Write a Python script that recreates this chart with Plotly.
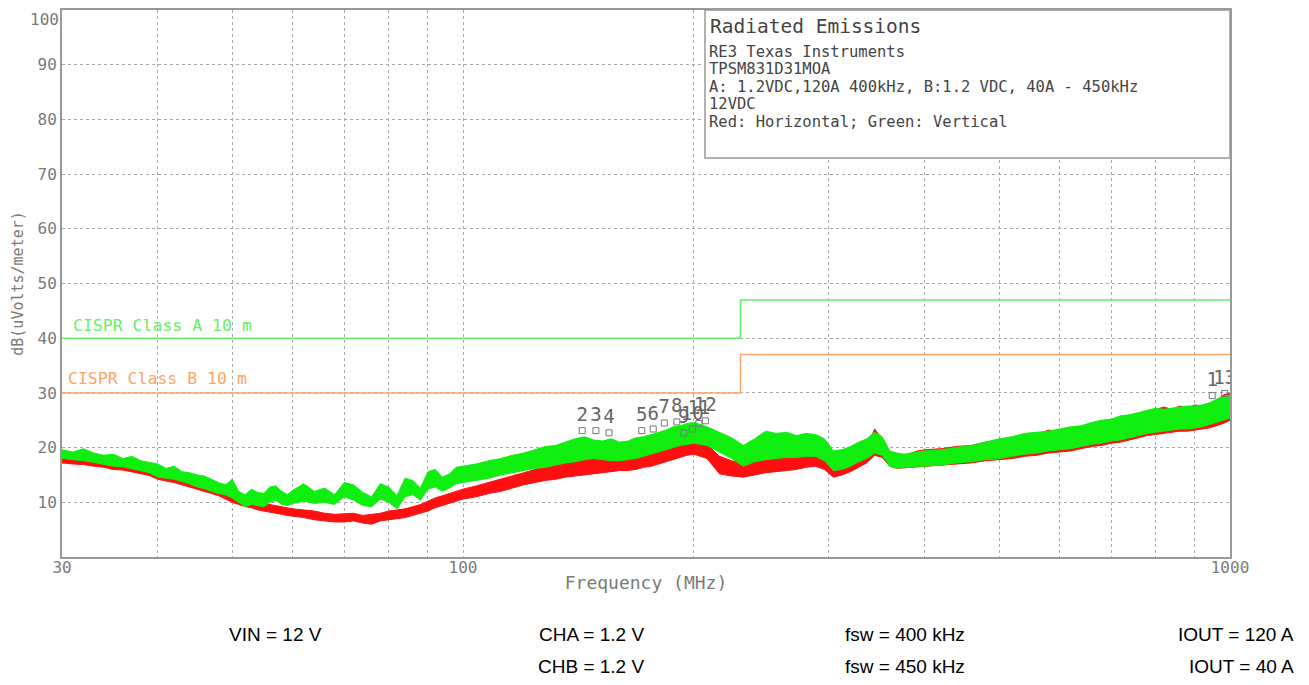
import plotly.graph_objects as go

# Frequency grid (MHz) for the measured scans
FREQ = [30, 31, 32, 33, 34, 35, 36, 37, 38, 39, 40, 41, 42, 43, 44, 45, 46, 47, 48, 49,
        50, 51, 52, 53, 54, 55, 56, 57, 58, 59, 60,
        62, 64, 66, 68, 70, 72, 74, 76, 78, 80, 82, 84, 86, 88, 90, 92, 94, 96, 98, 100,
        104, 108, 112, 116, 120, 124, 128, 132, 136, 140, 144, 148, 152, 156, 160, 164,
        168, 172, 176, 180, 184, 188, 192, 196, 200,
        208, 216, 224, 232, 240, 248, 256, 264, 272, 280, 288, 296, 304, 312, 320, 328,
        336, 344, 352, 360, 368, 376, 384, 392, 400,
        420, 440, 460, 480, 500, 520, 540, 560, 580, 600, 620, 640, 660, 680, 700, 720,
        740, 760, 780, 800, 820, 840, 860, 880, 900, 920, 940, 960, 980, 1000]

# Vertical polarisation (green) - low / high edge of the noisy trace, dB(uV/m)
VERT_LO = [18.0, 17.8, 17.6, 17.3, 17.0, 16.6, 16.5, 16.2, 15.8, 15.4, 14.6, 14.4, 14.2, 13.8,
           13.4, 12.8, 12.5, 12.0, 11.6, 11.4, 10.8, 10.0, 9.2, 9.6, 9.4, 9.2, 10.0, 10.4, 9.6,
           9.4, 9.8,
           10.2, 9.8, 10.0, 9.6, 11.0, 10.4, 9.4, 9.2, 10.6, 10.0, 8.8, 11.0, 11.4, 10.4, 12.4,
           12.8, 12.0, 12.6, 13.4, 13.6,
           14.0, 14.4, 15.0, 15.4, 15.8, 16.2, 16.4, 16.8, 17.2, 17.4, 17.8, 18.0, 17.8, 17.6,
           17.6, 17.8, 18.0, 18.4, 18.8, 19.2, 19.6, 20.0, 20.4, 20.6, 20.8,
           20.4, 19.2, 18.0, 16.6, 17.4, 17.8, 18.0, 18.2, 18.2, 18.4, 18.4, 17.6, 15.8, 16.0,
           16.6, 17.4, 18.0, 19.0, 18.6, 16.6, 16.2, 16.4, 16.4, 16.6, 16.6,
           16.8, 17.2, 17.4, 17.8, 18.0, 18.4, 18.8, 19.0, 19.4, 19.6, 19.8, 20.2, 20.6, 20.8,
           21.2, 21.4, 21.8, 22.2, 22.6, 22.8, 23.0, 23.2, 23.4, 23.4, 23.6, 23.8, 24.2, 24.6,
           25.0, 25.4]
VERT_HI = [19.6, 19.2, 19.8, 19.0, 18.6, 18.8, 18.0, 18.4, 17.6, 17.3, 17.0, 16.2, 16.6, 15.6,
           15.4, 15.0, 14.8, 14.2, 13.6, 13.2, 14.2, 12.0, 11.4, 12.4, 11.8, 11.6, 12.8, 13.0,
           12.0, 11.4, 12.2,
           13.4, 12.0, 12.6, 11.4, 13.6, 13.2, 11.8, 11.0, 13.4, 12.8, 11.2, 14.4, 14.0, 12.6,
           15.6, 16.0, 14.6, 15.2, 16.4, 16.6,
           17.0, 17.6, 18.0, 18.6, 19.0, 19.6, 20.2, 20.4, 21.0, 21.6, 22.0, 21.4, 21.2, 21.6,
           21.0, 21.2, 21.8, 22.0, 22.4, 22.8, 23.2, 23.8, 24.0, 24.4, 24.6,
           23.8, 22.8, 21.8, 20.4, 21.6, 23.0, 22.6, 22.8, 22.2, 22.6, 22.4, 21.6, 19.4, 19.6,
           20.2, 21.0, 21.6, 22.8, 22.0, 19.4, 19.0, 18.8, 19.0, 19.2, 19.4,
           19.6, 20.0, 20.4, 21.0, 21.6, 22.0, 22.6, 22.8, 23.0, 23.4, 23.8, 24.0, 24.6, 25.0,
           25.2, 25.8, 26.0, 26.4, 26.8, 27.2, 27.0, 27.2, 27.4, 27.6, 27.6, 27.8, 28.2, 28.8,
           29.4, 29.6]

# Horizontal polarisation (red)
HORZ_LO = [17.2, 17.0, 16.9, 16.6, 16.4, 16.0, 15.9, 15.6, 15.2, 14.9, 14.2, 13.9, 13.6, 13.2,
           12.9, 12.4, 12.0, 11.6, 11.2, 10.6, 10.0, 9.6, 9.2, 9.0, 8.6, 8.4, 8.2, 8.0, 7.8,
           7.6, 7.4,
           7.2, 6.8, 6.6, 6.4, 6.4, 6.6, 6.2, 6.0, 6.6, 6.8, 7.0, 7.2, 7.6, 8.0, 8.4, 9.0, 9.4,
           9.8, 10.2, 10.6,
           11.0, 11.6, 12.0, 12.6, 13.2, 13.6, 14.0, 14.2, 14.6, 14.8, 15.0, 15.2, 15.4, 15.6,
           15.8, 15.8, 16.0, 16.4, 16.6, 17.0, 17.4, 17.8, 18.2, 18.6, 18.8,
           18.0, 15.2, 14.8, 14.6, 15.0, 15.4, 15.6, 15.8, 16.0, 16.4, 16.6, 16.0, 14.6, 15.0,
           15.6, 16.4, 17.2, 18.6, 18.2, 16.6, 16.2, 16.2, 16.4, 16.4, 16.6,
           16.8, 17.0, 17.2, 17.6, 17.8, 18.0, 18.4, 18.6, 19.0, 19.2, 19.4, 19.8, 20.2, 20.4,
           20.8, 21.0, 21.4, 21.8, 22.2, 22.4, 22.6, 22.8, 23.0, 23.0, 23.2, 23.4, 23.6, 24.0,
           24.4, 25.0]
HORZ_HI = [18.8, 18.3, 18.9, 17.9, 17.8, 17.4, 17.2, 17.0, 16.6, 16.2, 15.8, 15.6, 15.2, 14.7,
           14.5, 14.0, 13.6, 13.2, 13.0, 12.2, 11.8, 11.2, 10.8, 10.4, 10.0, 9.8, 9.6, 9.4, 9.2,
           9.0, 8.8,
           8.6, 8.4, 8.0, 7.8, 7.9, 8.0, 7.6, 7.8, 8.0, 8.4, 8.6, 8.8, 9.2, 9.6, 10.2, 10.8,
           11.2, 11.6, 12.0, 12.4,
           13.0, 13.6, 14.2, 14.8, 15.4, 16.0, 16.4, 16.8, 17.2, 17.4, 17.8, 18.0, 18.2, 18.4,
           18.6, 18.8, 19.0, 19.4, 19.6, 20.0, 20.4, 20.8, 21.2, 21.6, 21.8,
           20.6, 18.4, 17.6, 17.2, 17.4, 17.8, 18.2, 18.4, 18.6, 18.8, 19.2, 19.0, 17.0, 17.4,
           18.0, 18.8, 19.8, 23.4, 21.6, 19.2, 18.8, 18.6, 19.0, 19.4, 19.6,
           19.8, 20.2, 20.4, 21.0, 21.4, 21.8, 22.0, 22.4, 23.2, 23.0, 23.6, 23.8, 24.2, 24.8,
           25.0, 25.6, 25.8, 26.0, 26.6, 27.0, 27.4, 27.0, 27.6, 27.2, 27.8, 27.6, 28.0, 28.6,
           29.6, 30.0]

# CISPR 22 limits, 10 m
LIMIT_FREQ = [30, 230, 1000]
CLASS_A = [40, 47, 47]
CLASS_B = [30, 37, 37]

# Peak markers
MARK_ID = ["1", "2", "3", "4", "5", "6", "7", "8", "9", "10", "11", "12", "13"]
MARK_FREQ = [948, 143, 149, 155, 171, 177, 183, 190, 194, 199, 203, 207, 984]
MARK_LEVEL = [29.5, 23.1, 23.1, 22.7, 23.1, 23.4, 24.5, 24.7, 22.7, 23.4, 24.4, 24.9, 29.9]

X_TICKS = [30, 40, 50, 60, 70, 80, 90, 100, 200, 300, 400, 500, 600, 700, 800, 900, 1000]
X_TICK_TEXT = ["30", "", "", "", "", "", "", "100", "", "", "", "", "", "", "", "", "1000"]
Y_TICKS = [10, 20, 30, 40, 50, 60, 70, 80, 90, 100]
# the top label sits at the page edge, so it is drawn separately
Y_TICK_TEXT = ["10", "20", "30", "40", "50", "60", "70", "80", "90", ""]
Y_TOP_LABEL = "100"

INFO_ROW1 = ["VIN = 12 V", "CHA = 1.2 V", "fsw = 400 kHz", "IOUT = 120 A"]
INFO_ROW2 = ["", "CHB = 1.2 V", "fsw = 450 kHz", "IOUT = 40 A"]

LEGEND_TITLE = "Radiated Emissions"
LEGEND_LINES = ["RE3 Texas Instruments", "TPSM831D31MOA",
                "A: 1.2VDC,120A 400kHz, B:1.2 VDC, 40A - 450kHz", "12VDC",
                "Red: Horizontal; Green: Vertical"]

MONO = "DejaVu Sans Mono"
GREY = "#7a7a7a"
RED = "#ff1010"
GREEN = "#10ee10"
LIM_A = "#66ee66"
LIM_B = "#ffa366"

# page body adds an 8px margin; plot area in screen pixels: x 62..1230, y 10..557
OFF = 8
PX_L, PX_R, PX_T, PX_B = 62 - OFF, 1230 - OFF, 10 - OFF, 557 - OFF


def px_x(x):
    return (x - OFF - PX_L) / (PX_R - PX_L)


def px_y(y):
    return (PX_B - (y - OFF)) / (PX_B - PX_T)


fig = go.Figure()


def band(lo, hi, color):
    return go.Scatter(
        x=FREQ + FREQ[::-1], y=hi + lo[::-1],
        mode="lines", fill="toself", fillcolor=color,
        line=dict(color=color, width=1), hoverinfo="skip", showlegend=False
    )


fig.add_trace(band(HORZ_LO, HORZ_HI, RED))
fig.add_trace(band(VERT_LO, VERT_HI, GREEN))

fig.add_trace(go.Scatter(x=LIMIT_FREQ, y=CLASS_A, mode="lines", line_shape="hv",
                         line=dict(color=LIM_A, width=1.5), showlegend=False))
fig.add_trace(go.Scatter(x=LIMIT_FREQ, y=CLASS_B, mode="lines", line_shape="hv",
                         line=dict(color=LIM_B, width=1.5), showlegend=False))

fig.add_trace(go.Scatter(
    x=MARK_FREQ, y=MARK_LEVEL, mode="markers+text", text=MARK_ID,
    textposition="top center", textfont=dict(family=MONO, size=19, color="#666666"),
    marker=dict(symbol="square-open", size=6, color="#777777", line=dict(width=1)),
    showlegend=False
))

# Limit labels
fig.add_annotation(x=px_x(71), y=42.3, xref="paper", yref="y", text="CISPR Class A 10 m",
                   showarrow=False, xanchor="left", yanchor="middle",
                   font=dict(family=MONO, size=16.5, color=LIM_A))
fig.add_annotation(x=px_x(66), y=32.7, xref="paper", yref="y", text="CISPR Class B 10 m",
                   showarrow=False, xanchor="left", yanchor="middle",
                   font=dict(family=MONO, size=16.5, color=LIM_B))

# Top y label
fig.add_annotation(x=px_x(61), y=px_y(8), xref="paper", yref="paper", text=Y_TOP_LABEL,
                   showarrow=False, xanchor="right", yanchor="top",
                   font=dict(family=MONO, size=16, color=GREY))

# Header box
fig.add_shape(type="rect", xref="paper", yref="paper", x0=px_x(705), x1=1.0,
              y0=px_y(158), y1=1.0,
              line=dict(color="#999999", width=1.5), fillcolor="white", layer="above")
fig.add_annotation(x=px_x(708), y=px_y(26), xref="paper", yref="paper", text=LEGEND_TITLE,
                   showarrow=False, xanchor="left", yanchor="middle",
                   font=dict(family=MONO, size=19.5, color="#444444"))
for i, line in enumerate(LEGEND_LINES):
    fig.add_annotation(x=px_x(707), y=px_y(52 + i * 17.5), xref="paper", yref="paper",
                       text=line, showarrow=False, xanchor="left", yanchor="middle",
                       font=dict(family=MONO, size=15.5, color="#444444"))

# Operating conditions below the plot
col_x = [px_x(275), px_x(591), px_x(905), px_x(1296)]
col_anchor = ["center", "center", "center", "right"]
for row, y in ((INFO_ROW1, px_y(634)), (INFO_ROW2, px_y(666))):
    for txt, x, anc in zip(row, col_x, col_anchor):
        if txt:
            fig.add_annotation(x=x, y=y, xref="paper", yref="paper", text=txt,
                               showarrow=False, xanchor=anc, yanchor="middle",
                               font=dict(family="Liberation Sans, Arial", size=19,
                                         color="black"))

fig.update_layout(
    width=1309, height=685,
    paper_bgcolor="white", plot_bgcolor="white",
    margin=dict(l=PX_L, r=1309 - PX_R, t=PX_T, b=685 - PX_B, autoexpand=False),
    xaxis=dict(
        type="log", range=[1.4771, 3.0], automargin=False,
        tickvals=X_TICKS, ticktext=X_TICK_TEXT, ticks="",
        ticklabelstandoff=-5,
        showgrid=True, gridcolor="#aaaaaa", griddash="dot", gridwidth=1,
        showline=True, linecolor="#999999", linewidth=2, mirror=True,
        tickfont=dict(family=MONO, size=16, color=GREY),
        title=dict(text="Frequency (MHz)", font=dict(family=MONO, size=18, color=GREY),
                   standoff=0),
        zeroline=False
    ),
    yaxis=dict(
        range=[0, 100], tickvals=Y_TICKS, ticktext=Y_TICK_TEXT, ticks="", automargin=False,
        showgrid=True, gridcolor="#aaaaaa", griddash="dot", gridwidth=1,
        showline=True, linecolor="#999999", linewidth=2, mirror=True,
        tickfont=dict(family=MONO, size=16, color=GREY),
        title=dict(text="dB(uVolts/meter)", font=dict(family=MONO, size=15, color=GREY),
                   standoff=10),
        zeroline=False
    ),
    showlegend=False
)

fig.write_html("out.html")
